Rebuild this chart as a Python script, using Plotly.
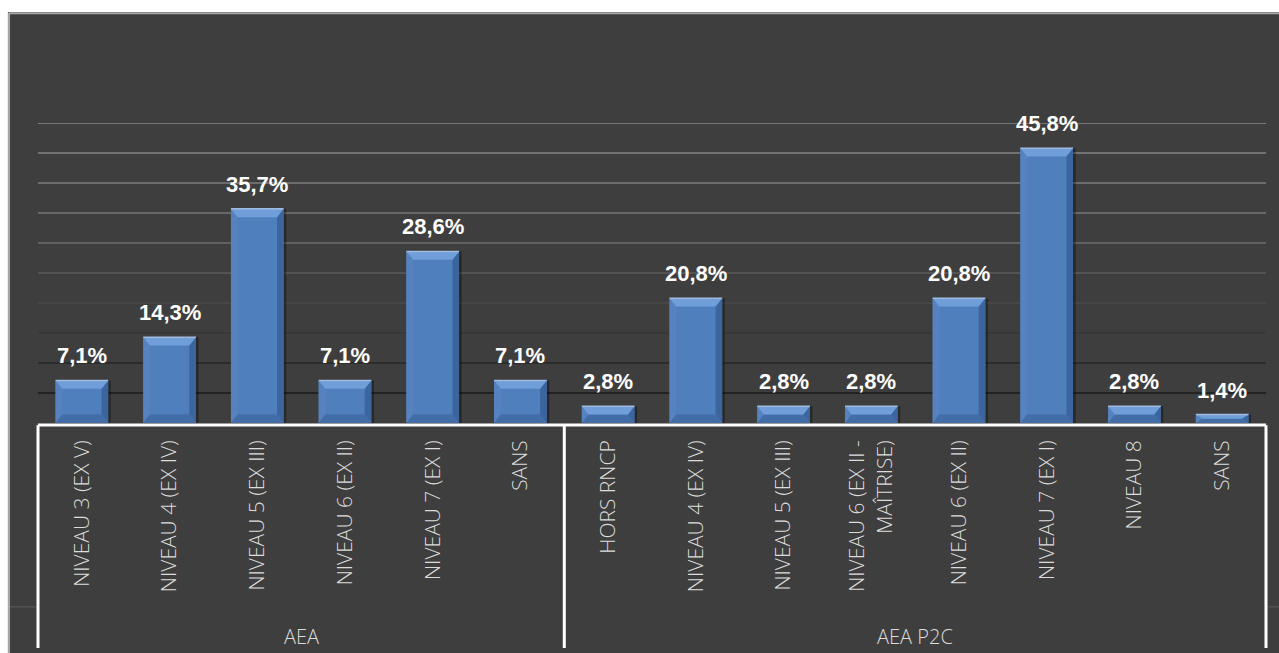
import plotly.graph_objects as go

# ---- data ----
groups = ["AEA", "AEA P2C"]
aea_levels = [
    "NIVEAU 3 (EX V)", "NIVEAU 4 (EX IV)", "NIVEAU 5 (EX III)",
    "NIVEAU 6 (EX II)", "NIVEAU 7 (EX I)", "SANS",
]
aea_values = [7.1, 14.3, 35.7, 7.1, 28.6, 7.1]
p2c_levels = [
    "HORS RNCP", "NIVEAU 4 (EX IV)", "NIVEAU 5 (EX III)",
    "NIVEAU 6 (EX II -<br>MAÎTRISE)", "NIVEAU 6 (EX II)", "NIVEAU 7 (EX I)",
    "NIVEAU 8", "SANS",
]
p2c_values = [2.8, 20.8, 2.8, 2.8, 20.8, 45.8, 2.8, 1.4]
gridline_values = [5, 10, 15, 20, 25, 30, 35, 40, 45, 50]

labels = aea_levels + p2c_levels
values = aea_values + p2c_values
xpos = list(range(len(values)))
n = len(values)

# ---- styling ----
PANEL = "#3e3e3e"
FACE = "#4f7fbd"
TOP = "#6f9ed9"
LEFT = "#5682bf"
RIGHT = "#3b659c"
BOTTOM = "#426da6"
HALF = 0.3          # half bar width (category units)
BEV_X = 0.075       # bevel width (category units)
BEV_Y = 1.4         # bevel height (value units)
LABEL_FONT = "Open Sans, Lato, sans-serif"
LABEL_COLOR = "#dcdcdc"

fig = go.Figure()

# soft drop shadow to the right of each bar
fig.add_trace(go.Bar(
    x=xpos, y=values, width=2 * HALF, offset=-HALF + 0.03,
    marker=dict(color="rgba(0,0,0,0.35)", line=dict(width=0)),
    hoverinfo="skip", showlegend=False,
))
# bar face
fig.add_trace(go.Bar(
    x=xpos, y=values, width=2 * HALF,
    marker=dict(color=FACE, line=dict(width=0)),
    showlegend=False,
))


def bevel_trace(points_fn, color):
    xs, ys = [], []
    for x, v in zip(xpos, values):
        dy = min(BEV_Y, v / 2.0)
        pts = points_fn(x, v, dy)
        for px, py in pts:
            xs.append(px)
            ys.append(py)
        xs.append(pts[0][0])
        ys.append(pts[0][1])
        xs.append(None)
        ys.append(None)
    return go.Scatter(
        x=xs, y=ys, mode="lines", fill="toself", fillcolor=color,
        line=dict(width=0, color=color), hoverinfo="skip", showlegend=False,
    )


# bevelled edges of each bar
fig.add_trace(bevel_trace(
    lambda x, v, dy: [(x - HALF, 0), (x - HALF, v), (x - HALF + BEV_X, v - dy),
                      (x - HALF + BEV_X, dy)], LEFT))
fig.add_trace(bevel_trace(
    lambda x, v, dy: [(x + HALF, 0), (x + HALF, v), (x + HALF - BEV_X, v - dy),
                      (x + HALF - BEV_X, dy)], RIGHT))
fig.add_trace(bevel_trace(
    lambda x, v, dy: [(x - HALF, 0), (x + HALF, 0), (x + HALF - BEV_X, dy),
                      (x - HALF + BEV_X, dy)], BOTTOM))
fig.add_trace(bevel_trace(
    lambda x, v, dy: [(x - HALF, v), (x + HALF, v), (x + HALF - BEV_X, v - dy),
                      (x - HALF + BEV_X, v - dy)], TOP))

# light rim on the top edge
rim_x, rim_y = [], []
for x, v in zip(xpos, values):
    rim_x += [x - HALF, x + HALF, None]
    rim_y += [v, v, None]
fig.add_trace(go.Scatter(
    x=rim_x, y=rim_y, mode="lines", line=dict(color="#9fbbe0", width=1.5),
    hoverinfo="skip", showlegend=False,
))

# value labels
annotations = []
for x, v in zip(xpos, values):
    annotations.append(dict(
        x=x, y=v, xref="x", yref="y", text=f"{v:.1f}".replace(".", ",") + "%",
        showarrow=False, yanchor="bottom", yshift=10,
        font=dict(family="Liberation Sans, Arial, sans-serif", size=22,
                  color="white", weight="bold"),
    ))

# group labels
group_sizes = [len(aea_levels), len(p2c_levels)]
start = 0
for g, size in zip(groups, group_sizes):
    annotations.append(dict(
        x=start + (size - 1) / 2.0, y=-0.71, xref="x", yref="paper", text=g,
        showarrow=False, yanchor="middle",
        font=dict(family=LABEL_FONT, size=20, color=LABEL_COLOR, weight=300),
    ))
    start += size

# gridlines fading from light to dark toward the baseline
grid_colors = ["#232323", "#2c2c2c", "#383838", "#464646", "#545454",
               "#616161", "#686868", "#6d6d6d", "#717171", "#747474"]
shapes = []
for gv, gc in zip(gridline_values, grid_colors):
    shapes.append(dict(type="line", xref="paper", yref="y", x0=0, x1=1,
                       y0=gv, y1=gv, line=dict(color=gc, width=2), layer="below"))

# white frame around the category axis
AX_TOP = -0.007
AX_BOT = -0.75
shapes.append(dict(type="line", xref="paper", yref="paper", x0=0, x1=1,
                   y0=AX_TOP, y1=AX_TOP, line=dict(color="white", width=3)))
bounds = [0]
acc = 0
for size in group_sizes:
    acc += size
    bounds.append(acc / n)
for b in bounds:
    shapes.append(dict(type="line", xref="paper", yref="paper", x0=b, x1=b,
                       y0=AX_TOP, y1=AX_BOT, line=dict(color="white", width=3)))
# faint level separators outside the frame
shapes.append(dict(type="line", xref="paper", yref="paper", x0=-0.0245, x1=-0.002,
                   y0=-0.613, y1=-0.613, line=dict(color="#5c5c5c", width=1)))
shapes.append(dict(type="line", xref="paper", yref="paper", x0=1.002, x1=1.02,
                   y0=-0.613, y1=-0.613, line=dict(color="#5c5c5c", width=1)))

# white page margin and panel border
shapes.append(dict(type="rect", xref="paper", yref="paper", x0=-0.1, x1=1.1,
                   y0=1.37, y1=1.5, fillcolor="white", line=dict(width=0)))
shapes.append(dict(type="rect", xref="paper", yref="paper", x0=-0.1, x1=-0.0245,
                   y0=-0.8, y1=1.5, fillcolor="white", line=dict(width=0)))
shapes.append(dict(type="line", xref="paper", yref="paper", x0=-0.0240, x1=1.1,
                   y0=1.366, y1=1.366, line=dict(color="#a8a8a8", width=2)))
shapes.append(dict(type="line", xref="paper", yref="paper", x0=-0.0236, x1=-0.0236,
                   y0=-0.8, y1=1.366, line=dict(color="#a8a8a8", width=2)))

fig.update_layout(
    width=1279, height=653,
    margin=dict(l=38, r=13, t=123, b=230),
    paper_bgcolor=PANEL, plot_bgcolor=PANEL,
    barmode="overlay", bargap=0.4,
    showlegend=False,
    shapes=shapes, annotations=annotations,
    xaxis=dict(
        range=[-0.5, n - 0.5], tickmode="array", tickvals=xpos, ticktext=labels,
        tickangle=-90, ticks="", showgrid=False, zeroline=False, showline=False,
        ticklabelstandoff=12,
        tickfont=dict(family=LABEL_FONT, size=21, color=LABEL_COLOR, weight=300),
        fixedrange=True,
    ),
    yaxis=dict(
        range=[0, 50], showgrid=False, zeroline=False, showticklabels=False,
        showline=False, fixedrange=True,
    ),
)

fig.write_html("out.html", config=dict(displayModeBar=False))
